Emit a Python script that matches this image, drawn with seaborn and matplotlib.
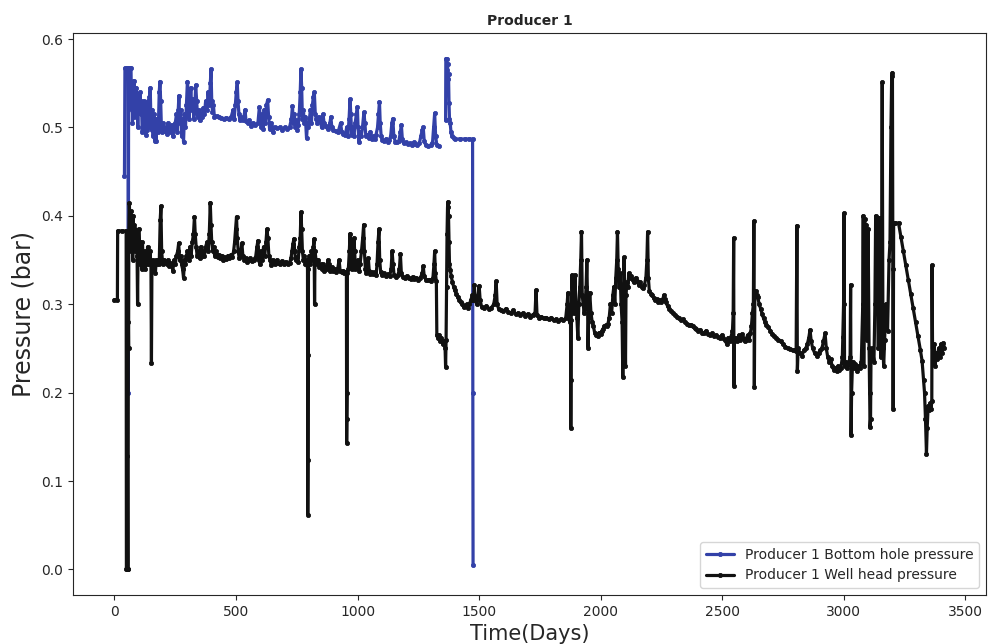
import matplotlib
matplotlib.use("Agg")
import matplotlib.pyplot as plt
import pandas as pd
import seaborn as sns

# Producer 1 bottom hole pressure (bar) against time (days)
bhp_days = [41, 43, 50, 56, 57, 58, 62, 68, 70,
            72, 74, 76, 78, 80, 82, 85, 88, 90, 93, 96, 99, 102, 105, 108, 111, 114, 117, 120, 123,
            126, 129, 132, 135, 138, 141, 144, 147, 150, 153, 156, 159, 162, 165, 168, 171, 174, 177,
            180, 184, 187, 190, 193, 196, 200, 205, 210, 215, 220, 225, 230, 235, 240, 245, 250, 255,
            258, 262, 265, 268, 272, 276, 280, 284, 288, 292, 296, 300, 303, 306, 310, 314, 318, 322,
            326, 330, 334, 338, 342, 346, 350, 355, 360, 365, 370, 375, 380, 385, 390, 394, 397, 400,
            403, 407, 411, 420, 430, 440, 450, 460, 470, 480, 488, 492, 497, 501, 505, 508, 512, 516,
            520, 530, 537, 541, 548, 555, 562, 570, 580, 590, 596, 600, 604, 608, 612, 616, 620, 625,
            630, 634, 638, 642, 646, 650, 660, 670, 680, 690, 700, 710, 720, 728, 732, 736, 740, 744,
            748, 752, 756, 760, 764, 767, 770, 773, 777, 781, 785, 790, 794, 798, 802, 806, 810, 814,
            818, 822, 826, 830, 835, 840, 846, 852, 858, 862, 868, 874, 880, 886, 890, 894, 900, 910,
            920, 930, 935, 940, 950, 955, 960, 965, 969, 972, 976, 980, 985, 990, 995, 999, 1002, 1006,
            1010, 1015, 1020, 1026, 1030, 1034, 1040, 1046, 1052, 1058, 1064, 1070, 1076, 1082, 1086,
            1090, 1093, 1097, 1102, 1110, 1118, 1124, 1130, 1136, 1141, 1145, 1149, 1155, 1162, 1170,
            1176, 1180, 1184, 1190, 1198, 1206, 1214, 1222, 1230, 1238, 1246, 1254, 1260, 1266, 1270,
            1274, 1280, 1290, 1300, 1308, 1313, 1317, 1321, 1326, 1334,
            1362, 1363, 1366, 1368, 1370, 1372, 1374, 1376, 1378, 1381, 1384, 1388, 1395, 1400, 1420,
            1440, 1460, 1473, 1474, 1475]
bhp_bar = [0.445, 0.567, 0.567, 0.567, 0.200, 0.560, 0.567, 0.567, 0.520,
           0.545, 0.505, 0.540, 0.530, 0.553, 0.512, 0.536, 0.520, 0.545, 0.530, 0.500, 0.536, 0.527,
           0.540, 0.515, 0.530, 0.495, 0.505, 0.530, 0.498, 0.525, 0.492, 0.510, 0.497, 0.530, 0.500,
           0.535, 0.545, 0.505, 0.497, 0.520, 0.490, 0.515, 0.485, 0.500, 0.485, 0.510, 0.505, 0.495,
           0.540, 0.552, 0.530, 0.500, 0.495, 0.505, 0.496, 0.500, 0.493, 0.505, 0.498, 0.495, 0.503,
           0.490, 0.500, 0.505, 0.515, 0.495, 0.520, 0.536, 0.505, 0.520, 0.490, 0.510, 0.484, 0.515,
           0.500, 0.525, 0.552, 0.540, 0.510, 0.525, 0.545, 0.520, 0.532, 0.510, 0.520, 0.548, 0.530,
           0.512, 0.520, 0.508, 0.515, 0.512, 0.522, 0.515, 0.530, 0.520, 0.540, 0.525, 0.550, 0.566,
           0.530, 0.518, 0.525, 0.512, 0.513, 0.512, 0.511, 0.510, 0.511, 0.510, 0.512, 0.520, 0.510,
           0.525, 0.540, 0.551, 0.530, 0.515, 0.508, 0.512, 0.508, 0.520, 0.507, 0.505, 0.508, 0.502,
           0.505, 0.503, 0.505, 0.523, 0.510, 0.500, 0.515, 0.498, 0.520, 0.505, 0.525, 0.531, 0.512,
           0.498, 0.505, 0.500, 0.495, 0.500, 0.499, 0.500, 0.497, 0.500, 0.498, 0.500, 0.510, 0.524,
           0.505, 0.515, 0.500, 0.508, 0.497, 0.503, 0.515, 0.540, 0.566, 0.545, 0.510, 0.520, 0.505,
           0.512, 0.488, 0.505, 0.500, 0.510, 0.520, 0.505, 0.525, 0.535, 0.540, 0.515, 0.510, 0.505,
           0.512, 0.508, 0.500, 0.515, 0.505, 0.502, 0.500, 0.498, 0.505, 0.512, 0.500, 0.497, 0.496,
           0.495, 0.505, 0.495, 0.493, 0.492, 0.500, 0.490, 0.510, 0.532, 0.515, 0.492, 0.500, 0.490,
           0.505, 0.515, 0.523, 0.500, 0.483, 0.495, 0.490, 0.500, 0.517, 0.505, 0.490, 0.492, 0.488,
           0.495, 0.487, 0.490, 0.487, 0.492, 0.500, 0.515, 0.529, 0.505, 0.490, 0.486, 0.485, 0.487,
           0.484, 0.486, 0.490, 0.505, 0.510, 0.490, 0.484, 0.483, 0.485, 0.495, 0.503, 0.487, 0.482,
           0.483, 0.481, 0.482, 0.480, 0.483, 0.481, 0.480, 0.482, 0.490, 0.497, 0.500, 0.485, 0.480,
           0.479, 0.480, 0.482, 0.500, 0.516, 0.490, 0.480, 0.479,
           0.508, 0.578, 0.577, 0.565, 0.572, 0.555, 0.560, 0.528, 0.510, 0.505, 0.495, 0.490, 0.488,
           0.487, 0.487, 0.487, 0.487, 0.487, 0.200, 0.005]
# the bottom hole gauge records nothing between these two days
bhp_gap = (1334, 1362)

# Producer 1 well head pressure (bar) against time (days)
whp_days = [0, 12, 13, 30, 48, 49, 52, 53, 54, 56, 57, 58, 59, 61, 63, 65, 67, 69, 71, 73, 75, 77,
            79, 81, 83, 85, 87, 90, 93, 95, 97, 100, 103, 106, 109, 112, 115, 118, 121, 124, 127,
            130, 133, 136, 139, 142, 146, 150, 152, 154, 157, 160, 164, 168, 172, 176, 180, 184, 188,
            191, 194, 197, 200, 205, 210, 215, 220, 225, 230, 235, 240, 245, 250, 255, 260, 264, 268,
            272, 276, 280, 284, 288, 292, 296, 300, 305, 310, 315, 320, 325, 329, 332, 336, 340, 345,
            350, 355, 360, 365, 370, 375, 380, 385, 390, 394, 397, 400, 404, 408, 412, 418, 424, 430,
            436, 442, 448, 454, 460, 466, 472, 478, 484, 490, 494, 498, 502, 505, 509, 513, 518, 524,
            528, 534, 540, 546, 552, 558, 565, 572, 580, 586, 590, 594, 598, 603, 608, 613, 618, 623,
            627, 631, 635, 640, 645, 650, 656, 662, 668, 674, 680, 688, 696, 704, 712, 720, 726, 730,
            734, 738, 741, 745, 750, 755, 760, 764, 767, 770, 773, 777, 781, 785, 790, 794, 795, 796,
            797, 798, 802, 806, 810, 814, 818, 821, 823, 825, 829, 833, 838, 843, 848, 853, 858, 863,
            868, 873, 878, 882, 886, 890, 895, 900, 906, 912, 918, 924, 928, 934, 940, 946, 950, 954,
            955, 956, 957, 958, 962, 966, 969, 972, 976, 980, 985, 988, 991, 995, 1000, 1005, 1010,
            1016, 1021, 1025, 1028, 1032, 1036, 1040, 1044, 1048, 1052, 1058, 1064, 1070, 1076, 1080,
            1084, 1088, 1091, 1095, 1100, 1108, 1116, 1124, 1132, 1138, 1142, 1146, 1150, 1158, 1166,
            1172, 1176, 1180, 1186, 1194, 1202, 1210, 1218, 1226, 1234, 1242, 1250, 1258, 1266, 1270,
            1274, 1280, 1288, 1296, 1304, 1310, 1314, 1317, 1320, 1324, 1326, 1330, 1335, 1340, 1345,
            1350, 1355, 1360, 1362, 1364, 1366, 1368, 1370, 1372, 1374, 1376, 1378, 1381, 1385, 1390,
            1395, 1400, 1406, 1412, 1418, 1424, 1430, 1436, 1442, 1448, 1454, 1460, 1466, 1472, 1476,
            1480, 1484, 1490, 1496, 1500, 1504, 1510, 1520, 1530, 1540, 1550, 1560, 1566, 1570, 1574,
            1580, 1590, 1600, 1610, 1620, 1630, 1640, 1650, 1660, 1670, 1680, 1690, 1700, 1710, 1720,
            1730, 1734, 1738, 1746, 1756, 1766, 1776, 1786, 1796, 1806, 1816, 1826, 1836, 1846, 1856,
            1862, 1865, 1868, 1872, 1876, 1877, 1878, 1879, 1882, 1886, 1890, 1894, 1898, 1902, 1906,
            1910, 1914, 1918, 1921, 1924, 1928, 1932, 1936, 1940, 1943, 1946, 1948, 1951, 1955, 1960,
            1965, 1970, 1975, 1980, 1985, 1990, 1995, 2000, 2005, 2010, 2015, 2020, 2025, 2030, 2035,
            2040, 2045, 2050, 2054, 2058, 2062, 2066, 2069, 2072, 2076, 2080, 2084, 2088, 2091, 2093,
            2096, 2099, 2102, 2104, 2108, 2112, 2116, 2120, 2126, 2132, 2138, 2144, 2150, 2156, 2162,
            2168, 2174, 2180, 2186, 2190, 2193, 2196, 2200, 2206, 2212, 2218, 2224, 2230, 2236, 2242,
            2248, 2254, 2260, 2264, 2268, 2275, 2282, 2290, 2298, 2306, 2314, 2322, 2330, 2338, 2346,
            2354, 2362, 2370, 2378, 2386, 2394, 2402, 2410, 2418, 2426, 2434, 2442, 2450, 2458, 2466,
            2474, 2482, 2490, 2498, 2505, 2512, 2518, 2524, 2530, 2536, 2542, 2545, 2547, 2548, 2550,
            2556, 2562, 2568, 2574, 2580, 2586, 2592, 2598, 2604, 2610, 2616, 2620, 2624, 2628, 2630,
            2632, 2634, 2638, 2642, 2646, 2652, 2658, 2664, 2670, 2676, 2682, 2690, 2698, 2706, 2714,
            2722, 2730, 2740, 2750, 2760, 2770, 2780, 2790, 2798, 2804, 2807, 2809, 2812, 2820, 2828,
            2836, 2844, 2850, 2856, 2861, 2866, 2872, 2880, 2888, 2896, 2904, 2910, 2916, 2923, 2928,
            2934, 2940, 2946, 2952, 2958, 2964, 2970, 2976, 2982, 2988, 2994, 2996, 2999, 3001, 3003,
            3008, 3014, 3020, 3026, 3028, 3030, 3032, 3036, 3042, 3048, 3054, 3060, 3066, 3072, 3078,
            3080, 3082, 3086, 3088, 3092, 3096, 3100, 3104, 3106, 3108, 3110, 3112, 3118, 3124, 3128,
            3131, 3134, 3138, 3142, 3145, 3148, 3152, 3155, 3158, 3161, 3164, 3168, 3172, 3180, 3186,
            3190, 3194, 3197, 3200, 3202, 3203, 3205, 3212, 3225, 3235, 3245, 3255, 3265, 3275, 3285,
            3295, 3305, 3315, 3322, 3328, 3332, 3336, 3340, 3343, 3347, 3351, 3355, 3359, 3362, 3363,
            3365, 3368, 3372, 3376, 3380, 3385, 3390, 3395, 3400, 3405, 3410, 3414]
whp_bar = [0.305, 0.305, 0.383, 0.383, 0.383, 0.000, 0.000, 0.128, 0.000, 0.000, 0.280, 0.250,
           0.380, 0.414, 0.400, 0.370, 0.405, 0.360, 0.395, 0.385, 0.350, 0.400, 0.375, 0.390, 0.360,
           0.385, 0.365, 0.380, 0.355, 0.300, 0.360, 0.385, 0.370, 0.345, 0.360, 0.340, 0.370, 0.350,
           0.345, 0.360, 0.340, 0.350, 0.345, 0.365, 0.355, 0.345, 0.360, 0.345, 0.233, 0.345, 0.350,
           0.340, 0.345, 0.335, 0.350, 0.345, 0.350, 0.345, 0.395, 0.411, 0.360, 0.350, 0.345, 0.350,
           0.348, 0.345, 0.350, 0.343, 0.347, 0.345, 0.338, 0.350, 0.345, 0.355, 0.360, 0.369, 0.350,
           0.355, 0.345, 0.340, 0.330, 0.350, 0.345, 0.355, 0.360, 0.350, 0.365, 0.355, 0.370, 0.380,
           0.399, 0.380, 0.365, 0.355, 0.360, 0.352, 0.365, 0.355, 0.360, 0.355, 0.365, 0.370, 0.360,
           0.380, 0.415, 0.390, 0.370, 0.360, 0.365, 0.355, 0.360, 0.354, 0.356, 0.352, 0.355, 0.350,
           0.353, 0.351, 0.355, 0.352, 0.356, 0.353, 0.360, 0.370, 0.385, 0.399, 0.375, 0.360, 0.352,
           0.355, 0.369, 0.355, 0.350, 0.352, 0.348, 0.350, 0.352, 0.349, 0.350, 0.352, 0.365, 0.372,
           0.350, 0.345, 0.360, 0.350, 0.365, 0.355, 0.370, 0.385, 0.375, 0.355, 0.350, 0.344, 0.350,
           0.348, 0.345, 0.350, 0.347, 0.345, 0.349, 0.346, 0.348, 0.345, 0.347, 0.352, 0.360, 0.368,
           0.374, 0.360, 0.350, 0.353, 0.348, 0.365, 0.375, 0.404, 0.385, 0.360, 0.350, 0.355, 0.345,
           0.350, 0.340, 0.062, 0.124, 0.243, 0.350, 0.355, 0.345, 0.360, 0.350, 0.365, 0.374, 0.300,
           0.360, 0.350, 0.345, 0.350, 0.342, 0.345, 0.340, 0.345, 0.338, 0.342, 0.340, 0.350, 0.345,
           0.338, 0.340, 0.342, 0.338, 0.340, 0.337, 0.340, 0.350, 0.338, 0.336, 0.338, 0.335, 0.337,
           0.336, 0.143, 0.170, 0.200, 0.335, 0.340, 0.360, 0.380, 0.355, 0.340, 0.345, 0.375, 0.360,
           0.340, 0.345, 0.350, 0.338, 0.345, 0.360, 0.375, 0.390, 0.360, 0.340, 0.335, 0.345, 0.352,
           0.338, 0.334, 0.336, 0.334, 0.336, 0.333, 0.345, 0.370, 0.385, 0.350, 0.336, 0.333, 0.335,
           0.332, 0.334, 0.332, 0.340, 0.360, 0.345, 0.333, 0.331, 0.333, 0.340, 0.357, 0.335, 0.331,
           0.330, 0.332, 0.330, 0.329, 0.331, 0.329, 0.330, 0.328, 0.330, 0.335, 0.343, 0.332, 0.328,
           0.327, 0.328, 0.326, 0.330, 0.345, 0.360, 0.335, 0.326, 0.265, 0.262, 0.265, 0.258, 0.262,
           0.255, 0.258, 0.250, 0.229, 0.260, 0.320, 0.380, 0.410, 0.416, 0.400, 0.370, 0.345, 0.339,
           0.332, 0.325, 0.320, 0.316, 0.312, 0.308, 0.305, 0.302, 0.300, 0.297, 0.298, 0.300, 0.296,
           0.300, 0.305, 0.310, 0.305, 0.322, 0.305, 0.300, 0.310, 0.321, 0.305, 0.297, 0.296, 0.298,
           0.295, 0.296, 0.300, 0.310, 0.326, 0.300, 0.295, 0.293, 0.292, 0.295, 0.291, 0.290, 0.293,
           0.289, 0.290, 0.288, 0.290, 0.287, 0.289, 0.286, 0.288, 0.290, 0.316, 0.288, 0.285, 0.286,
           0.284, 0.285, 0.283, 0.285, 0.282, 0.283, 0.281, 0.283, 0.282, 0.284, 0.300, 0.313, 0.285,
           0.280, 0.282, 0.160, 0.214, 0.290, 0.333, 0.300, 0.290, 0.333, 0.300, 0.285, 0.262, 0.300,
           0.320, 0.350, 0.382, 0.310, 0.300, 0.290, 0.300, 0.320, 0.350, 0.300, 0.251, 0.290, 0.313,
           0.290, 0.280, 0.275, 0.268, 0.265, 0.266, 0.264, 0.268, 0.266, 0.270, 0.272, 0.275, 0.276,
           0.275, 0.278, 0.285, 0.300, 0.290, 0.310, 0.320, 0.300, 0.330, 0.350, 0.382, 0.340, 0.320,
           0.335, 0.300, 0.280, 0.218, 0.300, 0.353, 0.320, 0.230, 0.310, 0.325, 0.320, 0.335, 0.330,
           0.332, 0.328, 0.325, 0.330, 0.326, 0.322, 0.325, 0.320, 0.318, 0.322, 0.330, 0.350, 0.382,
           0.330, 0.315, 0.312, 0.310, 0.307, 0.305, 0.306, 0.303, 0.305, 0.302, 0.305, 0.310, 0.306,
           0.302, 0.298, 0.295, 0.292, 0.290, 0.288, 0.286, 0.284, 0.282, 0.283, 0.280, 0.278, 0.276,
           0.277, 0.275, 0.273, 0.272, 0.270, 0.271, 0.268, 0.268, 0.270, 0.266, 0.265, 0.267, 0.264,
           0.265, 0.263, 0.262, 0.265, 0.262, 0.260, 0.255, 0.262, 0.258, 0.263, 0.270, 0.290, 0.375,
           0.208, 0.260, 0.262, 0.258, 0.265, 0.260, 0.266, 0.262, 0.258, 0.260, 0.265, 0.260, 0.268,
           0.275, 0.290, 0.300, 0.394, 0.206, 0.310, 0.315, 0.310, 0.308, 0.300, 0.295, 0.289, 0.284,
           0.280, 0.277, 0.274, 0.270, 0.266, 0.264, 0.262, 0.260, 0.258, 0.255, 0.252, 0.250, 0.249,
           0.248, 0.248, 0.247, 0.389, 0.225, 0.250, 0.245, 0.242, 0.248, 0.250, 0.255, 0.262, 0.271,
           0.258, 0.250, 0.245, 0.242, 0.245, 0.248, 0.250, 0.258, 0.267, 0.250, 0.240, 0.235, 0.238,
           0.230, 0.226, 0.228, 0.225, 0.230, 0.226, 0.228, 0.240, 0.263, 0.300, 0.403, 0.230, 0.235,
           0.228, 0.233, 0.240, 0.322, 0.152, 0.200, 0.235, 0.228, 0.232, 0.225, 0.230, 0.228, 0.235,
           0.300, 0.400, 0.230, 0.396, 0.300, 0.390, 0.260, 0.385, 0.250, 0.200, 0.161, 0.170, 0.245,
           0.250, 0.235, 0.300, 0.400, 0.330, 0.370, 0.250, 0.398, 0.290, 0.240, 0.300, 0.551, 0.250,
           0.230, 0.260, 0.300, 0.270, 0.350, 0.370, 0.500, 0.558, 0.562, 0.340, 0.182, 0.392, 0.392,
           0.392, 0.376, 0.360, 0.344, 0.328, 0.312, 0.296, 0.280, 0.264, 0.248, 0.236, 0.214, 0.200,
           0.170, 0.131, 0.160, 0.185, 0.180, 0.188, 0.182, 0.190, 0.344, 0.250, 0.240, 0.255, 0.230,
           0.245, 0.238, 0.250, 0.240, 0.255, 0.245, 0.256, 0.250]

BLUE = "#3341a8"
BLACK = "#111111"

bhp = pd.DataFrame({"Time": bhp_days, "Pressure": bhp_bar})
bhp["stretch"] = (bhp["Time"] >= bhp_gap[1]).astype(int)
whp = pd.DataFrame({"Time": whp_days, "Pressure": whp_bar})

sns.set_style("ticks")
plt.rcParams["font.family"] = ["DejaVu Sans"]

fig = plt.figure(figsize=(9.93, 6.44), dpi=100)
ax = fig.add_axes([0.0735, 0.0761, 0.9194, 0.8727])

line_kw = dict(sort=False, estimator=None, marker=".", markersize=6, linewidth=2.3,
               markeredgewidth=0.6, ax=ax)
for k, part in bhp.groupby("stretch"):
    sns.lineplot(data=part, x="Time", y="Pressure", color=BLUE, markeredgecolor=BLUE,
                 label="Producer 1 Bottom hole pressure" if k == 0 else None, **line_kw)
sns.lineplot(data=whp, x="Time", y="Pressure", color=BLACK, markeredgecolor=BLACK,
             label="Producer 1 Well head pressure", **line_kw)

ax.set_title("Producer 1", fontsize=10, fontweight="bold")
ax.set_xlabel("Time(Days)", fontsize=15)
ax.set_ylabel("Pressure (bar)", fontsize=17)
ax.tick_params(labelsize=10)
ax.legend(loc="lower right", fontsize=10)

fig.savefig("out.png", dpi=100)
